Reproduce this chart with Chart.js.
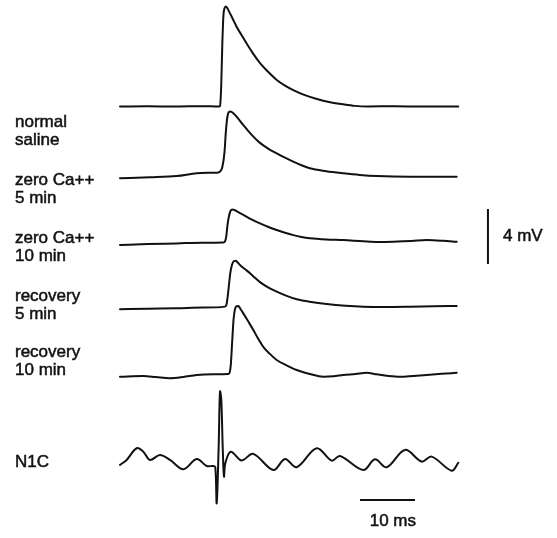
<!DOCTYPE html>
<html>
<head>
<meta charset="utf-8">
<script src="https://cdn.jsdelivr.net/npm/chart.js@4/dist/chart.umd.min.js"></script>
<style>
  html, body { margin: 0; padding: 0; background: #fff; }
  #wrap { width: 557px; height: 538px; position: relative; }
</style>
</head>
<body>
<div id="wrap"><canvas id="c"></canvas></div>
<script>
// ---- Trace labels ----
const traceLabels = [
  ["normal", "saline"],
  ["zero Ca++", "5 min"],
  ["zero Ca++", "10 min"],
  ["recovery", "5 min"],
  ["recovery", "10 min"],
  ["N1C"]
];

// ---- Time (ms) and voltage (mV, relative to each trace's own baseline) ----
const tNormal = [0, 5, 10, 15, 18.0, 18.18, 18.4, 18.6, 18.8, 19.0, 19.25, 19.6, 20.0, 20.6, 21.2, 22.1, 23.0, 24.2, 25.5, 27.0, 28.5, 30.0, 31.5, 33.5, 35.8, 38.2, 40.6, 42.7, 45, 50, 55, 61.5];
const vNormal = [0, 0.02, 0, 0.03, 0, 0.04, 1.5, 4.5, 6.6, 7.15, 7.28, 7.1, 6.78, 6.3, 5.8, 5.2, 4.6, 3.85, 3.14, 2.5, 1.93, 1.52, 1.2, 0.85, 0.55, 0.32, 0.16, 0.05, 0.01, 0.02, 0.0, 0.0];

const tZero5 = [0, 5.45, 10.31, 13.95, 16, 17.58, 18.2, 18.6, 19.0, 19.25, 19.5, 19.8, 20.1, 20.6, 21.5, 22.4, 23.9, 25.45, 27.0, 28.5, 30.0, 31.5, 33.0, 34.5, 37.5, 40.6, 43.6, 46.7, 52.7, 61.22];
const vZero5 = [-0.09, -0.02, 0.07, 0.27, 0.3, 0.31, 0.4, 0.7, 1.8, 3.3, 4.3, 4.72, 4.76, 4.63, 4.25, 3.78, 3.08, 2.48, 2.05, 1.72, 1.4, 1.11, 0.85, 0.63, 0.42, 0.27, 0.15, 0.07, 0.02, 0.02];

const tZero10 = [0, 5, 10.31, 15, 18.78, 19.1, 19.3, 19.55, 19.8, 20.1, 20.45, 20.8, 21.5, 22.42, 23.9, 25.45, 27.0, 28.49, 30.0, 31.51, 33.0, 34.55, 37.5, 40.6, 44.24, 47, 49.69, 53, 55.76, 58.78, 61.22];
const vZero10 = [-0.07, 0.0, 0.05, 0.1, 0.12, 0.2, 0.5, 1.4, 2.0, 2.42, 2.52, 2.48, 2.33, 2.13, 1.8, 1.5, 1.24, 1.02, 0.82, 0.65, 0.52, 0.43, 0.34, 0.29, 0.2, 0.15, 0.17, 0.22, 0.29, 0.24, 0.17];

const tRec5 = [0, 5, 10.31, 15, 19.09, 19.35, 19.55, 19.8, 20.05, 20.35, 20.7, 21.0, 21.4, 21.82, 22.7, 23.64, 24.5, 25.45, 27.0, 28.49, 30.3, 32.13, 34.8, 37.58, 41, 44.24, 48, 52.73, 57, 61.22];
const vRec5 = [-0.02, 0.02, 0.05, 0.1, 0.17, 0.3, 0.8, 1.7, 2.6, 3.2, 3.48, 3.5, 3.38, 3.2, 2.9, 2.6, 2.28, 1.95, 1.55, 1.26, 0.95, 0.7, 0.5, 0.36, 0.24, 0.17, 0.15, 0.17, 0.2, 0.22];

const tRec10 = [0, 4.24, 6.5, 9.09, 11.5, 13.95, 17, 19.69, 19.95, 20.15, 20.4, 20.65, 20.91, 21.2, 21.51, 21.9, 22.42, 23.3, 24.24, 25.1, 26.05, 27.2, 28.49, 30.3, 32.13, 34.5, 36.96, 38.8, 40.6, 42.8, 44.85, 46.67, 48.8, 50.91, 53.3, 55.76, 58.5, 61.22];
const vRec10 = [0.02, 0.07, 0.0, -0.09, 0.0, 0.15, 0.2, 0.22, 0.35, 0.9, 2.6, 4.2, 4.95, 5.15, 5.16, 4.95, 4.63, 4.05, 3.42, 2.8, 2.2, 1.7, 1.24, 0.85, 0.51, 0.22, 0.02, 0.05, 0.15, 0.22, 0.31, 0.2, 0.08, 0.02, 0.08, 0.15, 0.23, 0.31];

const tN1C = [0, 1.21, 3.03, 4.24, 5.45, 7.27, 9.09, 11.52, 13.94, 15.76, 16.97, 17.33, 17.58, 17.94, 18.18, 18.42, 18.67, 18.91, 19.15, 20.12, 21.82, 22.42, 24.24, 27.88, 30.0, 32.12, 35.76, 38.48, 40.0, 44.24, 46.36, 48.48, 51.82, 54.85, 56.67, 60.3, 61.52];
const vN1C = [-0.36, 0, 0.85, 0.6, 0, 0.36, 0, -0.68, 0.07, -0.44, -0.44, -0.53, -3.15, 0.97, 4.97, 4.36, 0.97, -1.21, -0.24, 0.6, 0, 0, 0.44, -0.73, 0.07, -0.53, 0.85, -0.05, 0.29, -0.73, 0.05, -0.53, 0.73, -0.12, 0.24, -0.78, -0.2];

// ---- Scale bars ----
const scaleBarTime = 10;   // ms
const scaleBarVolt = 4;    // mV
const scaleBarTimeLabel = "10 ms";
const scaleBarVoltLabel = "4 mV";

// ---- Layout (trace baseline offsets in mV, view window, label rows in px) ----
const traceOffsets = [-7.75, -12.87, -17.75, -22.47, -27.42, -33.45];
const labelRowY = [122, 180, 238, 296, 352, 462];
const xRange = [-21.818, 79.4545];
const yRange = [-39.127, 0];
const timeBarStart = 43.64, timeBarLevel = -36.36;
const voltBarX = 66.9, voltBarTop = -15.2;

const times = [tNormal, tZero5, tZero10, tRec5, tRec10, tN1C];
const volts = [vNormal, vZero5, vZero10, vRec5, vRec10, vN1C];

const datasets = times.map((ts, i) => {
  const isNoise = i === times.length - 1;
  return {
    label: traceLabels[i].join(" "),
    data: ts.map((t, k) => ({ x: t, y: volts[i][k] + traceOffsets[i] })),
    borderColor: "#111",
    borderWidth: 2,
    pointRadius: 0,
    fill: false,
    cubicInterpolationMode: isNoise ? "default" : "monotone",
    tension: isNoise ? 0.35 : 0,
    borderJoinStyle: "round",
    borderCapStyle: "round"
  };
});

datasets.push({
  label: scaleBarTimeLabel,
  data: [{ x: timeBarStart, y: timeBarLevel }, { x: timeBarStart + scaleBarTime, y: timeBarLevel }],
  borderColor: "#111", borderWidth: 2, pointRadius: 0, tension: 0
});
datasets.push({
  label: scaleBarVoltLabel,
  data: [{ x: voltBarX, y: voltBarTop }, { x: voltBarX, y: voltBarTop - scaleBarVolt }],
  borderColor: "#111", borderWidth: 2, pointRadius: 0, tension: 0
});

function drawText(ctx, s, x, y) {
  ctx.strokeText(s, x, y);
  ctx.fillText(s, x, y);
}

const labelPlugin = {
  id: "labels",
  afterDraw(chart) {
    const ctx = chart.ctx;
    const ys = chart.scales.y, xs = chart.scales.x;
    ctx.save();
    ctx.fillStyle = "#111";
    ctx.strokeStyle = "#111";
    ctx.lineWidth = 0.5;
    ctx.font = "17px 'Liberation Sans', Arial, sans-serif";
    ctx.textBaseline = "middle";
    ctx.textAlign = "left";
    traceLabels.forEach((lines, i) => {
      lines.forEach((s, j) => drawText(ctx, s, 15, labelRowY[i] + j * 18));
    });
    const vx = xs.getPixelForValue(voltBarX);
    const vy = (ys.getPixelForValue(voltBarTop) + ys.getPixelForValue(voltBarTop - scaleBarVolt)) / 2;
    drawText(ctx, scaleBarVoltLabel, vx + 15, vy);
    const tx1 = xs.getPixelForValue(timeBarStart + scaleBarTime);
    const ty = ys.getPixelForValue(timeBarLevel);
    ctx.textAlign = "right";
    drawText(ctx, scaleBarTimeLabel, tx1 + 1, ty + 21);
    ctx.restore();
  }
};

new Chart(document.getElementById("c"), {
  type: "line",
  data: { datasets },
  options: {
    responsive: true,
    maintainAspectRatio: false,
    animation: false,
    layout: { padding: 0 },
    plugins: { legend: { display: false }, tooltip: { enabled: false } },
    scales: {
      x: { type: "linear", min: xRange[0], max: xRange[1], display: false },
      y: { type: "linear", min: yRange[0], max: yRange[1], display: false }
    }
  },
  plugins: [labelPlugin]
});
</script>
</body>
</html>
